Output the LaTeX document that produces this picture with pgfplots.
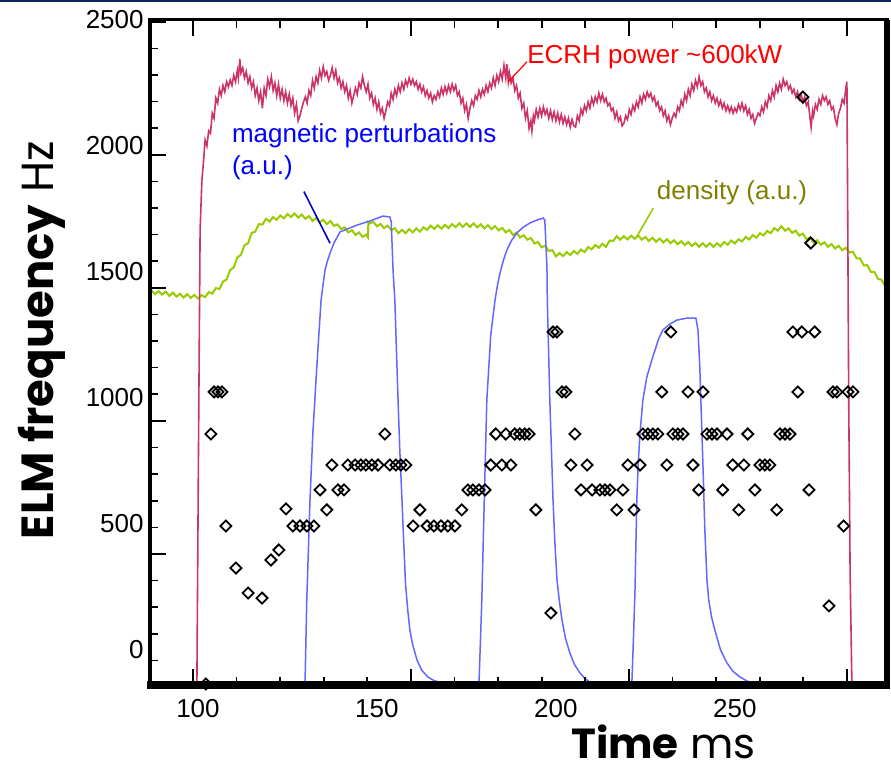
\documentclass[border=0pt]{standalone}
\usepackage{pgfplots}
\pgfplotsset{compat=1.18}
\usepackage{fontspec}
\setmainfont{Liberation Sans}
\newfontfamily\gothic{Poppins}
\definecolor{ecrh}{RGB}{204,51,102}
\definecolor{dens}{RGB}{153,204,0}
\definecolor{densl}{RGB}{128,128,0}
\definecolor{mag}{RGB}{102,102,255}
\definecolor{magp}{RGB}{0,0,204}
\definecolor{navy}{RGB}{12,40,90}
\begin{document}
\begin{tikzpicture}
\useasboundingbox (0,0) rectangle (445.5pt,388pt);
\fill[white] (0,0) rectangle (445.5pt,388pt);
\draw[navy, line width=1pt] (0,387.7pt) -- (445.5pt,387.7pt);
\begin{axis}[
  at={(75pt,45.5pt)}, anchor=south west,
  scale only axis, width=368.5pt, height=332.5pt,
  xmin=86.6, xmax=292.5, ymin=-139, ymax=2500,
  axis on top,
  axis line style={line width=1.5pt},
  tick style={black, line width=0.8pt},
  major tick length=8pt, minor tick length=4pt,
  tick align=inside,
  xtick={98.6,159.5,220.4,281.3},
  minor xtick={86.4,110.8,123.0,135.2,147.3,171.7,183.9,196.1,208.2,232.6,244.8,257.0,269.1},
  xticklabels={},
  extra x ticks={100,150,200,250},
  extra x tick labels={100,150,200,250},
  extra x tick style={major tick length=0pt},
  xtick pos=both,
  ytick={381,909,1437,1965,2493},
  minor ytick={-41.4,64.2,169.8,275.4,486.6,592.2,697.8,803.4,1014.6,1120.2,1225.8,1331.4,1542.6,1648.2,1753.8,1859.4,2070.6,2176.2,2281.8,2387.4},
  yticklabels={},
  extra y ticks={0,500,1000,1500,2000,2500},
  extra y tick labels={0,500,1000,1500,2000,2500},
  extra y tick style={major tick length=0pt},
  ytick pos=left,
  ticklabel style={font=\fontsize{13}{15}\selectfont},
  yticklabel style={anchor=east, inner xsep=0pt, xshift=-3pt},
  xticklabel style={anchor=north, inner ysep=0pt, yshift=-7pt},
  ylabel={{\gothic\bfseries ELM frequency} {\gothic Hz}},
  ylabel style={font=\fontsize{22.5}{26}\selectfont, at={(axis description cs:-0.1303,0.5188)}, anchor=base},
  xlabel={{\gothic\bfseries Time} {\gothic ms}},
  xlabel style={font=\fontsize{21}{24}\selectfont, inner sep=0pt, at={(axis description cs:0.6967,-0.1098)}, anchor=base},
  after end axis/.code={
    \draw[black, line width=4pt] (rel axis cs:-0.004,0) -- (rel axis cs:1.004,0);
    \draw[black, line width=2pt] (rel axis cs:0,0) -- (rel axis cs:0,1);
    \draw[black, line width=3pt] (rel axis cs:1,0) -- (rel axis cs:1,1);
  },
]
% density (a.u.)
\addplot[dens, line width=1pt] coordinates {
(86.6,1428)(87,1428)(88,1412)(89,1424)(90,1410)(91,1422)(92,1405)(93,1418)(94,1402)(95,1414)(96,1398)(97,1412)(98,1397)(99,1409)(100,1395)(101,1408)(102,1400)(103,1420)(104,1414)(105,1436)(106,1432)(107,1462)(108,1470)(109,1508)(110,1518)(111,1558)(112,1568)(113,1606)(114,1614)(115,1655)(116,1660)(117,1690)(118,1688)(119,1711)(120,1700)(121,1718)(122,1707)(123,1724)(124,1713)(125,1730)(126,1718)(127,1732)(128,1716)(129,1728)(130,1711)(131,1722)(132,1703)(133,1714)(134,1696)(135,1707)(136,1690)(137,1702)(138,1683)(139,1689)(140,1670)(141,1677)(142,1657)(143,1666)(144,1647)(145,1657)(146,1639)(147,1648)(147.5,1637)(147.6,1698)(148,1692)(149,1699)(150,1681)(151,1691)(152,1674)(153,1684)(154,1666)(155,1674)(156,1654)(157,1667)(158,1654)(159,1670)(160,1657)(161,1673)(162,1660)(163,1677)(164,1667)(165,1684)(166,1671)(167,1685)(168,1672)(169,1687)(170,1674)(171,1690)(172,1678)(173,1693)(174,1679)(175,1693)(176,1679)(177,1693)(178,1677)(179,1689)(180,1673)(181,1686)(182,1670)(183,1682)(184,1665)(185,1675)(186,1657)(187,1667)(188,1647)(189,1656)(190,1637)(191,1646)(192,1628)(193,1635)(194,1613)(195,1619)(196,1598)(197,1604)(198,1583)(199,1587)(200,1562)(201,1575)(202,1563)(203,1579)(204,1567)(205,1583)(206,1572)(207,1589)(208,1579)(209,1599)(210,1590)(211,1607)(212,1596)(213,1612)(214,1600)(215,1625)(216,1623)(217,1642)(218,1628)(219,1642)(220,1629)(221,1644)(222,1632)(223,1645)(224,1628)(225,1639)(226,1623)(227,1636)(228,1620)(229,1633)(230,1617)(231,1630)(232,1614)(233,1626)(234,1610)(235,1622)(236,1607)(237,1619)(238,1603)(239,1615)(240,1600)(241,1614)(242,1600)(243,1614)(244,1600)(245,1614)(246,1602)(247,1619)(248,1608)(249,1625)(250,1613)(251,1630)(252,1621)(253,1639)(254,1629)(255,1646)(256,1636)(257,1654)(258,1645)(259,1663)(260,1654)(261,1674)(262,1664)(263,1682)(264,1664)(265,1673)(266,1655)(267,1664)(268,1644)(269,1652)(270,1630)(271,1637)(272,1616)(273,1626)(274,1608)(275,1618)(276,1600)(277,1611)(278,1593)(279,1604)(280,1586)(281,1596)(282,1577)(283,1580)(284,1554)(285,1554)(286,1526)(287,1527)(288,1500)(289,1500)(290,1472)(291,1469)(292,1443)(292.5,1444)
};
% magnetic perturbations (a.u.)
\addplot[mag, line width=0.75pt] coordinates {
(129.9,-139)(130.4,198)(131.3,595)(132.1,861)(133.2,1123)(134.4,1389)(135.0,1455)(135.5,1508)(136.2,1545)(136.9,1575)(138.0,1615)(139.7,1659)(142.5,1675)(144.4,1686)(148.0,1702)(151.7,1722)(153.6,1718)(154.0,1698)(154.5,1508)(155.0,1389)(155.9,992)(156.4,790)(157.0,595)(157.5,420)(158.0,260)(158.6,160)(159.2,79)(160.0,20)(161.2,-40)(162.5,-80)(164.2,-107)(166.0,-122)(168.4,-131)(171.0,-137)(173.2,-139)
};
\addplot[mag, line width=0.75pt] coordinates {
(178.5,-139)(179.3,198)(180.0,600)(180.7,992)(181.8,1250)(183.0,1389)(183.7,1450)(184.4,1496)(185.3,1545)(186.3,1587)(187.6,1625)(189.1,1655)(190.8,1677)(192.7,1694)(194.5,1705)(196.4,1714)(196.9,1706)(197.5,1520)(197.6,1389)(198.3,992)(199.2,595)(199.7,430)(200.3,278)(201.0,190)(201.7,119)(202.7,45)(203.9,-12)(205.2,-58)(206.7,-91)(208.0,-112)(209.5,-127)(211.5,-135)(213.7,-139)
};
\addplot[mag, line width=0.75pt] coordinates {
(221.2,-139)(221.7,60)(222.1,238)(222.6,595)(223.0,740)(223.5,861)(224.3,992)(225.4,1083)(226.8,1151)(227.7,1190)(228.7,1235)(229.9,1270)(231.8,1293)(233.8,1309)(236.6,1317)(239.1,1317)(239.7,1270)(240.2,1123)(241.1,726)(241.6,480)(242.2,278)(242.7,198)(243.5,130)(244.4,79)(246.0,0)(247.8,-52)(249.5,-85)(251.4,-107)(253.5,-124)(256.1,-135)(259.8,-139)
};
% ECRH power
\addplot[ecrh, line width=0.8pt] coordinates {
(86,-139)(99.7,-139)(100.2,900)(100.6,1667)(101.1,1865)(101.5,1930)(102,2024)(102.5,2000)(103,2060)(103.5,2050)(104,2130)(104.5,2110)(105,2190)(105.5,2170)(106,2225)(106.5,2200)(107,2240)(107.5,2215)(108,2255)(108.5,2235)(109,2262)(109.5,2240)(110,2280)(110.5,2255)(111,2300)(111.3,2270)(111.7,2345)(112,2290)(112.5,2310)(113,2270)(113.5,2295)(114,2250)(114.5,2275)(115,2230)(115.5,2255)(116,2200)(116.5,2230)(117,2180)(117.5,2215)(118,2150)(118.5,2230)(119,2200)(119.5,2265)(120,2235)(120.5,2275)(121,2220)(121.5,2250)(122,2200)(122.5,2245)(123,2190)(123.5,2225)(124,2180)(124.5,2215)(125,2170)(125.5,2205)(126,2160)(126.5,2190)(127,2130)(127.5,2165)(128,2100)(128.5,2120)(129,2150)(129.5,2175)(130,2195)(130.5,2170)(131,2220)(131.5,2200)(132,2260)(132.5,2230)(133,2275)(133.5,2250)(134,2300)(134.5,2270)(135,2315)(135.5,2280)(136,2295)(136.5,2260)(137,2280)(137.5,2310)(138,2270)(138.5,2300)(139,2250)(139.5,2270)(140,2230)(140.5,2255)(141,2215)(141.5,2240)(142,2190)(142.5,2220)(143,2170)(143.5,2200)(144,2230)(144.5,2205)(145,2250)(145.5,2230)(146,2275)(146.5,2240)(147,2215)(147.5,2245)(148,2190)(148.5,2210)(149,2165)(149.5,2190)(150,2145)(150.5,2175)(151,2130)(151.5,2150)(152,2110)(152.5,2140)(153,2175)(153.5,2160)(154,2210)(154.5,2185)(155,2225)(155.5,2200)(156,2240)(156.5,2215)(157,2250)(157.5,2225)(158,2260)(158.5,2240)(159,2270)(159.5,2245)(160,2265)(160.5,2240)(161,2255)(161.5,2225)(162,2245)(162.5,2215)(163,2235)(163.5,2200)(164,2220)(164.5,2190)(165,2210)(165.5,2175)(166,2200)(166.5,2185)(167,2215)(167.5,2195)(168,2230)(168.5,2205)(169,2235)(169.5,2210)(170,2240)(170.5,2215)(171,2245)(171.5,2220)(172,2240)(172.5,2200)(173,2215)(173.5,2170)(174,2190)(174.5,2140)(175,2165)(175.5,2110)(176,2150)(176.5,2180)(177,2160)(177.5,2200)(178,2185)(178.5,2220)(179,2195)(179.5,2225)(180,2205)(180.5,2240)(181,2215)(181.5,2250)(182,2230)(182.5,2270)(183,2240)(183.5,2280)(184,2255)(184.5,2295)(185,2265)(185.5,2320)(186,2270)(186.3,2325)(186.7,2255)(187,2290)(187.5,2250)(188,2270)(188.5,2220)(189,2240)(189.5,2190)(190,2210)(190.5,2150)(191,2170)(191.5,2110)(192,2140)(192.5,2070)(193,2100)(193.3,2060)(193.7,2120)(194,2100)(194.5,2145)(195,2115)(195.5,2150)(196,2120)(196.5,2155)(197,2125)(197.5,2145)(198,2110)(198.5,2140)(199,2105)(199.5,2135)(200,2100)(200.5,2130)(201,2095)(201.5,2125)(202,2090)(202.5,2115)(203,2085)(203.5,2110)(204,2075)(204.5,2105)(205,2080)(205.5,2075)(206,2120)(206.5,2100)(207,2145)(207.5,2125)(208,2160)(208.5,2140)(209,2175)(209.5,2150)(210,2190)(210.5,2165)(211,2195)(211.5,2175)(212,2210)(212.5,2180)(213,2205)(213.5,2175)(214,2190)(214.5,2160)(215,2170)(215.5,2140)(216,2150)(216.5,2110)(217,2135)(217.5,2100)(218,2115)(218.5,2080)(219,2090)(219.5,2120)(220,2105)(220.5,2145)(221,2125)(221.5,2160)(222,2140)(222.5,2175)(223,2155)(223.5,2195)(224,2170)(224.5,2205)(225,2185)(225.5,2215)(226,2195)(226.5,2210)(227,2180)(227.5,2195)(228,2160)(228.5,2175)(229,2140)(229.5,2155)(230,2120)(230.5,2140)(231,2100)(231.5,2120)(232,2085)(232.5,2110)(233,2130)(233.5,2115)(234,2155)(234.5,2140)(235,2180)(235.5,2160)(236,2205)(236.5,2180)(237,2225)(237.5,2200)(238,2245)(238.5,2220)(239,2260)(239.5,2235)(240,2275)(240.5,2240)(241,2255)(241.5,2215)(242,2230)(242.5,2195)(243,2215)(243.5,2180)(244,2200)(244.5,2170)(245,2190)(245.5,2160)(246,2180)(246.5,2150)(247,2170)(247.5,2140)(248,2160)(248.5,2135)(249,2155)(249.5,2130)(250,2150)(250.5,2135)(251,2165)(251.5,2145)(252,2170)(252.5,2140)(253,2160)(253.5,2125)(254,2145)(254.5,2110)(255,2125)(255.5,2090)(256,2110)(256.5,2130)(257,2120)(257.5,2155)(258,2135)(258.5,2175)(259,2155)(259.5,2200)(260,2180)(260.5,2220)(261,2195)(261.5,2240)(262,2215)(262.5,2250)(263,2225)(263.5,2265)(264,2240)(264.5,2255)(265,2225)(265.5,2240)(266,2210)(266.5,2225)(267,2195)(267.5,2215)(268,2185)(268.5,2205)(269,2175)(269.5,2195)(270,2160)(270.5,2175)(271,2110)(271.3,2075)(271.7,2140)(272,2120)(272.5,2165)(273,2145)(273.5,2185)(274,2165)(274.5,2200)(275,2180)(275.5,2195)(276,2165)(276.5,2180)(277,2145)(277.5,2155)(278,2110)(278.5,2085)(279,2130)(279.5,2150)(280,2185)(280.5,2170)(281,2230)(281.3,2255)(281.5,1800)(281.8,1000)(282.2,300)(282.7,-139)(293,-139)
};
% ELM frequency
\addplot[only marks, mark=square, mark size=1.95pt, mark options={rotate=45, black, line width=0.9pt, fill=none}] coordinates {
(102.2,-135)(103.6,857)(104.5,1024)(105.6,1024)(106.7,1024)(107.8,492)(110.6,325)(114.0,226)(117.9,206)(120.4,357)(122.6,397)(124.6,560)(126.5,492)(128.5,492)(130.4,492)(132.4,492)(134.1,635)(136.0,556)(137.4,734)(139.1,635)(140.8,635)
(141.9,734)(143.9,734)(145.5,734)(146.9,734)(148.6,734)(150.3,734)(153.6,734)(155.3,734)(156.7,734)(158.1,734)(152.2,857)
(160.1,492)(164.0,492)(165.9,492)(167.9,492)(169.8,492)(171.8,492)(162.0,556)(173.7,556)
(175.4,635)(176.8,635)(178.5,635)(180.2,635)(181.8,734)(184.9,734)(187.4,734)(194.4,556)
(183.2,857)(186.0,857)(188.5,857)(189.9,857)(191.3,857)(192.5,857)
(199.2,1262)(200.3,1262)(201.7,1024)(202.8,1024)(204.2,734)(208.7,734)(205.3,857)
(207.0,635)(210.1,635)(212.3,635)(213.7,635)(215.1,635)(218.7,635)(217.0,556)(221.8,556)
(220.1,734)(223.5,734)(231.0,734)(238.3,734)
(224.3,857)(225.7,857)(227.1,857)(228.5,857)(232.7,857)(234.1,857)(235.5,857)(242.2,857)(243.6,857)(245.0,857)(247.8,857)(253.6,857)(262.6,857)(264.0,857)(265.4,857)
(229.6,1024)(236.9,1024)(241.1,1024)(232.1,1262)
(239.9,635)(246.6,635)(255.6,635)(270.7,635)
(249.4,734)(252.5,734)(257.0,734)(258.4,734)(259.8,734)
(251.1,556)(261.7,556)
(266.2,1262)(268.7,1262)(272.3,1262)
(267.6,1024)(277.4,1024)(278.5,1024)(281.6,1024)(283.0,1024)
(280.4,492)(269.0,2194)(271.2,1615)(198.6,147)(276.3,175)
};
% annotations
\node[anchor=base west, inner sep=0pt, text=red, font=\fontsize{13}{15}\selectfont] at (axis cs:191.9,2329) {ECRH power \textasciitilde600kW};
\draw[red, line width=0.6pt] (axis cs:191.9,2334) -- (axis cs:186.7,2255);
\node[anchor=base west, inner sep=0pt, text=blue, font=\fontsize{13}{15}\selectfont] at (axis cs:109.4,2012) {magnetic perturbations};
\node[anchor=base west, inner sep=0pt, text=blue, font=\fontsize{13}{15}\selectfont] at (axis cs:109.4,1885) {(a.u.)};
\draw[magp, line width=0.8pt] (axis cs:129.6,1819) -- (axis cs:136.9,1614);
\node[anchor=base west, inner sep=0pt, text=densl, font=\fontsize{13}{15}\selectfont] at (axis cs:228.1,1786) {density (a.u.)};
\draw[dens, line width=0.8pt] (axis cs:227.2,1753) -- (axis cs:222.5,1638);
\end{axis}
\end{tikzpicture}
\end{document}
